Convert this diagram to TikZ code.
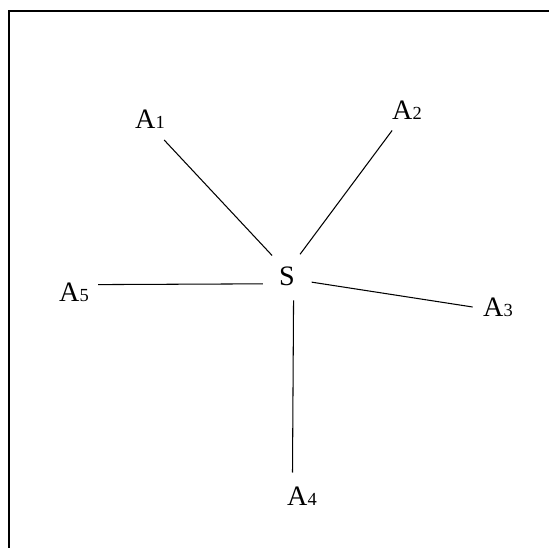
\documentclass[tikz,border=0pt]{standalone}
\usepackage{fontspec}
\setmainfont{Liberation Serif}
\newcommand{\sitenum}[1]{{\fontsize{10.5}{12}\selectfont #1}}

\begin{document}
\begin{tikzpicture}[
        x=0.02cm, y=-0.02cm,
        hub/.style={circle, inner sep=0pt, minimum size=1cm,
                    font=\fontsize{16}{19}\selectfont},
        site/.style={circle, inner sep=0pt, minimum size=1cm,
                     font=\fontsize{16}{19}\selectfont},
        spoke/.style={-, line width=0.6pt},
        frame/.style={line width=1.15pt},
    ]
    \useasboundingbox (0,0) rectangle (549,548);

    % ===== Frame (top and left edges only) =====
    \draw[frame] (9,548) -- (9,11) -- (549,11);

    % ===== Hub =====
    \node[hub] (S) at (287,276) {S};

    % ===== Sites A1 ... A5 =====
    \node[site] (A1) at (150,119) {A\sitenum{1}};
    \node[site] (A2) at (407,110) {A\sitenum{2}};
    \node[site] (A3) at (498,307) {A\sitenum{3}};
    \node[site] (A4) at (302,496) {A\sitenum{4}};
    \node[site] (A5) at (74,292)  {A\sitenum{5}};

    % spokes leave S at fixed angles
    \draw[spoke] (S.126) -- (A1.304);
    \draw[spoke] (S.59)  -- (A2.234);
    \draw[spoke] (S.346) -- (A3.180);
    \draw[spoke] (S.285) -- (A4.112);
    \draw[spoke] (S.198) -- (A5.17);

\end{tikzpicture}
\end{document}
